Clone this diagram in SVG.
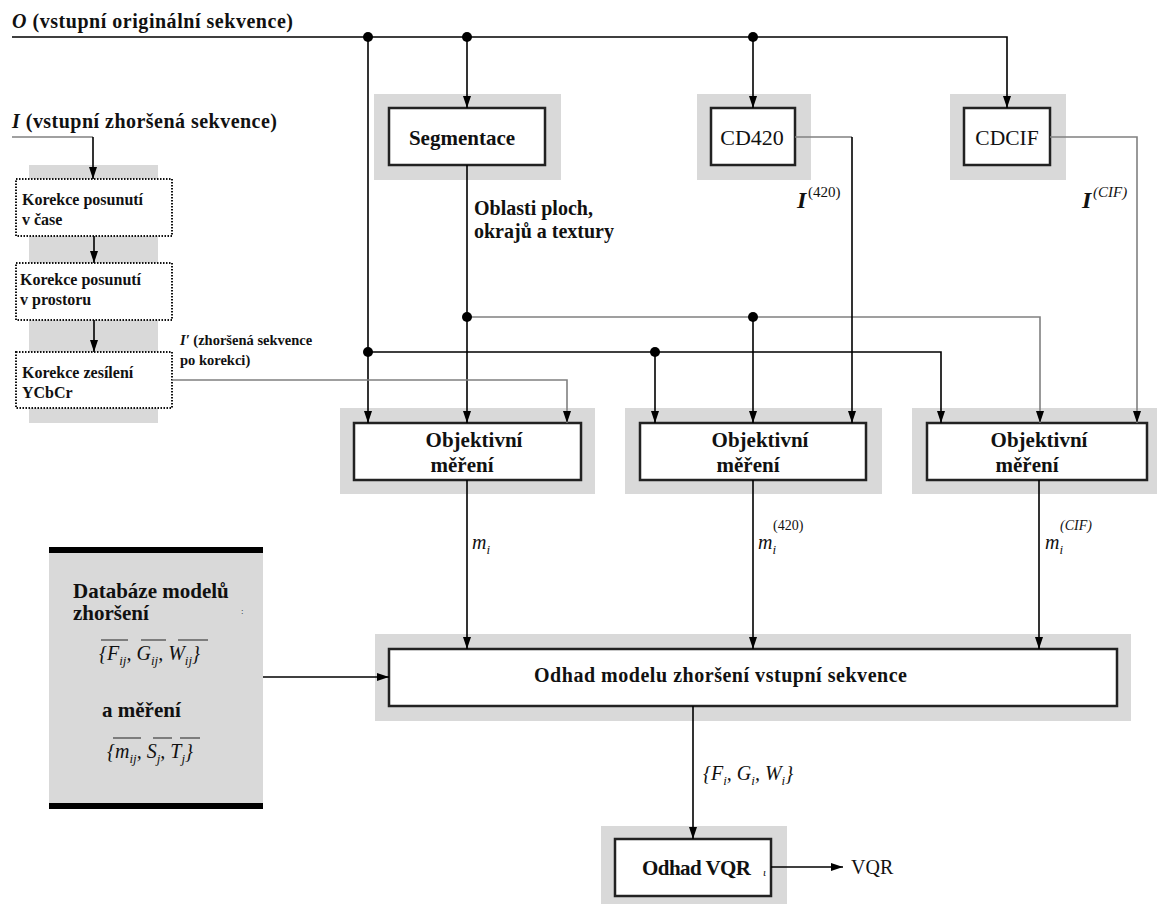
<svg xmlns="http://www.w3.org/2000/svg" width="1157" height="904" viewBox="0 0 1157 904">
<defs>
<marker id="ah" markerUnits="userSpaceOnUse" markerWidth="13" markerHeight="8" refX="12" refY="4" orient="auto">
<path d="M0,0 L12,4 L0,8 z" fill="#000"/>
</marker>
<style>
.bg{fill:#d9d9d9}
.box{fill:#fff;stroke:#222;stroke-width:2.5}
.dbox{fill:#fff;stroke:#111;stroke-width:2;stroke-dasharray:1.5 1.5}
.t{font-family:"Liberation Serif",serif;font-weight:bold;fill:#111}
.r{font-family:"Liberation Serif",serif;fill:#111}
.m{font-family:"Liberation Serif",serif;font-style:italic;fill:#111}
.k{fill:none;stroke:#000;stroke-width:1.6}
.g{fill:none;stroke:#808080;stroke-width:1.6}
.a{marker-end:url(#ah)}
.dot{fill:#000}
</style>
</defs>
<rect width="1157" height="904" fill="#fff"/>

<g id="inputs">
<text class="t" x="12" y="28" font-size="20" textLength="281"><tspan font-style="italic">O</tspan> (vstupní originální sekvence)</text>
<text class="t" x="12" y="128" font-size="20" textLength="265"><tspan font-style="italic">I</tspan> (vstupní zhoršená sekvence)</text>
</g>

<g id="korekce-column">
<rect class="bg" x="29" y="165" width="129" height="258"/>
</g>
<g id="korekce-cas">
<rect class="dbox" x="16" y="179" width="156" height="57"/>
<text class="t" x="22" y="205" font-size="16">Korekce posunutí</text>
<text class="t" x="22" y="225" font-size="16">v čase</text>
</g>
<g id="korekce-prostor">
<rect class="dbox" x="16" y="263" width="156" height="57"/>
<text class="t" x="20" y="285" font-size="16">Korekce posunutí</text>
<text class="t" x="20" y="305" font-size="16">v prostoru</text>
</g>
<g id="korekce-zesileni">
<rect class="dbox" x="16" y="352" width="156" height="56"/>
<text class="t" x="22" y="378" font-size="16">Korekce zesílení</text>
<text class="t" x="22" y="398" font-size="16">YCbCr</text>
</g>
<g id="label-iprime">
<text class="t" x="180" y="345" font-size="14.5"><tspan font-style="italic">I′</tspan> (zhoršená sekvence</text>
<text class="t" x="180" y="365" font-size="14.5">po korekci)</text>
</g>

<g id="segmentace">
<rect class="bg" x="374" y="94" width="187" height="86"/>
<rect class="box" x="389" y="108" width="156" height="57"/>
<text class="t" x="462" y="145" font-size="21" text-anchor="middle">Segmentace</text>
</g>
<g id="cd420">
<rect class="bg" x="697" y="94" width="114" height="86"/>
<rect class="box" x="711" y="108" width="84" height="57"/>
<text class="r" x="752" y="145" font-size="22" text-anchor="middle">CD420</text>
</g>
<g id="cdcif">
<rect class="bg" x="950" y="94" width="116" height="86"/>
<rect class="box" x="964" y="108" width="86" height="57"/>
<text class="r" x="1007" y="145" font-size="21.5" text-anchor="middle">CDCIF</text>
</g>

<g id="objektivni-1">
<rect class="bg" x="340" y="408" width="255" height="86"/>
<rect class="box" x="354" y="423" width="227" height="57"/>
<text class="t" x="474" y="447" font-size="21" text-anchor="middle">Objektivní</text>
<text class="t" x="462" y="472" font-size="21" text-anchor="middle">měření</text>
</g>
<g id="objektivni-2">
<rect class="bg" x="625" y="408" width="257" height="86"/>
<rect class="box" x="640" y="423" width="226" height="57"/>
<text class="t" x="760" y="447" font-size="21" text-anchor="middle">Objektivní</text>
<text class="t" x="748" y="472" font-size="21" text-anchor="middle">měření</text>
</g>
<g id="objektivni-3">
<rect class="bg" x="912" y="408" width="245" height="86"/>
<rect class="box" x="927" y="423" width="220" height="57"/>
<text class="t" x="1039" y="447" font-size="21" text-anchor="middle">Objektivní</text>
<text class="t" x="1027" y="472" font-size="21" text-anchor="middle">měření</text>
</g>

<g id="databaze">
<rect class="bg" x="49" y="547" width="214" height="262"/>
<rect x="49" y="547" width="214" height="6" fill="#000"/>
<rect x="49" y="803" width="214" height="6" fill="#000"/>
<text class="t" x="73" y="598" font-size="21">Databáze modelů</text>
<text class="t" x="73" y="620" font-size="21">zhoršení</text>
<text class="r" x="241" y="614" font-size="9" fill="#4a5a8a">:</text>
<text class="m" x="99" y="660" font-size="20">{F<tspan font-size="13" dy="5">ij</tspan><tspan dy="-5">, G</tspan><tspan font-size="13" dy="5">ij</tspan><tspan dy="-5">, W</tspan><tspan font-size="13" dy="5">ij</tspan><tspan dy="-5">}</tspan></text>
<path d="M101,640 H128 M141,640 H166 M178,640 H208" stroke="#222" stroke-width="1.2"/>
<text class="t" x="102" y="717" font-size="21">a měření</text>
<text class="m" x="107" y="758" font-size="20">{m<tspan font-size="13" dy="5">ij</tspan><tspan dy="-5">, S</tspan><tspan font-size="13" dy="5">j</tspan><tspan dy="-5">, T</tspan><tspan font-size="13" dy="5">j</tspan><tspan dy="-5">}</tspan></text>
<path d="M113,738 H141 M153,738 H172 M180,738 H200" stroke="#222" stroke-width="1.2"/>
</g>

<g id="odhad-modelu">
<rect class="bg" x="375" y="634" width="756" height="87"/>
<rect class="box" x="389" y="649" width="728" height="57"/>
<text class="t" x="534" y="682" font-size="20" textLength="373">Odhad modelu zhoršení vstupní sekvence</text>
</g>

<g id="odhad-vqr">
<rect class="bg" x="601" y="826" width="186" height="78"/>
<rect class="box" x="615" y="839" width="156" height="57"/>
<text class="t" x="642" y="875" font-size="21" textLength="109">Odhad VQR</text>
<text class="m" x="763" y="876" font-size="11">ι</text>
</g>
<g id="vqr-out">
<text class="r" x="851" y="874" font-size="20">VQR</text>
</g>

<g id="connectors">
<path class="k a" d="M12,37 H1007 V108"/>
<path class="k a" d="M368,37 V423"/>
<path class="k a" d="M467,37 V108"/>
<path class="k a" d="M753,37 V108"/>
<path class="k a" d="M467,165 V423"/>
<path class="k a" d="M368,352 H941 V423"/>
<path class="k a" d="M655,352 V423"/>
<path class="g a" d="M467,317 H1040 V423"/>
<path class="k a" d="M753,317 V423"/>
<path class="g" d="M795,137 H852"/>
<path class="k a" d="M852,137 V423"/>
<path class="g a" d="M1050,137 H1137 V423"/>
<path class="g" d="M12,137 H93"/>
<path class="k a" d="M93,137 V179"/>
<path class="k a" d="M94,236 V263"/>
<path class="k a" d="M94,320 V352"/>
<path class="g a" d="M172,380 H567 V423"/>
<path class="k a" d="M467,480 V649"/>
<path class="k a" d="M753,480 V649"/>
<path class="k a" d="M1039,480 V649"/>
<path class="k a" d="M263,677 H389"/>
<path class="k a" d="M693,706 V839"/>
<path class="k a" d="M771,867 H843"/>
<circle class="dot" cx="368" cy="37" r="5"/>
<circle class="dot" cx="467" cy="37" r="5"/>
<circle class="dot" cx="753" cy="37" r="5"/>
<circle class="dot" cx="368" cy="352" r="5"/>
<circle class="dot" cx="655" cy="352" r="5"/>
<circle class="dot" cx="467" cy="317" r="5"/>
<circle class="dot" cx="753" cy="317" r="5"/>
</g>

<g id="connector-labels">
<text class="t" x="474" y="215" font-size="20">Oblasti ploch,</text>
<text class="t" x="474" y="238" font-size="20">okrajů a textury</text>
<text class="m" x="797" y="208" font-size="24" font-weight="bold">I</text>
<text class="r" x="808" y="197" font-size="15">(420)</text>
<text class="m" x="1082" y="208" font-size="24" font-weight="bold">I</text>
<text class="m" x="1093" y="197" font-size="15">(CIF)</text>
<text class="m" x="472" y="549" font-size="20">m<tspan font-size="13" dy="5">i</tspan></text>
<text class="m" x="758" y="549" font-size="20">m<tspan font-size="13" dy="5">i</tspan></text>
<text class="r" x="773" y="530" font-size="14">(420)</text>
<text class="m" x="1045" y="549" font-size="20">m<tspan font-size="13" dy="5">i</tspan></text>
<text class="m" x="1060" y="530" font-size="14">(CIF)</text>
<text class="m" x="703" y="780" font-size="20">{F<tspan font-size="13" dy="5">i</tspan><tspan dy="-5">, G</tspan><tspan font-size="13" dy="5">i</tspan><tspan dy="-5">, W</tspan><tspan font-size="13" dy="5">i</tspan><tspan dy="-5">}</tspan></text>
</g>
</svg>
